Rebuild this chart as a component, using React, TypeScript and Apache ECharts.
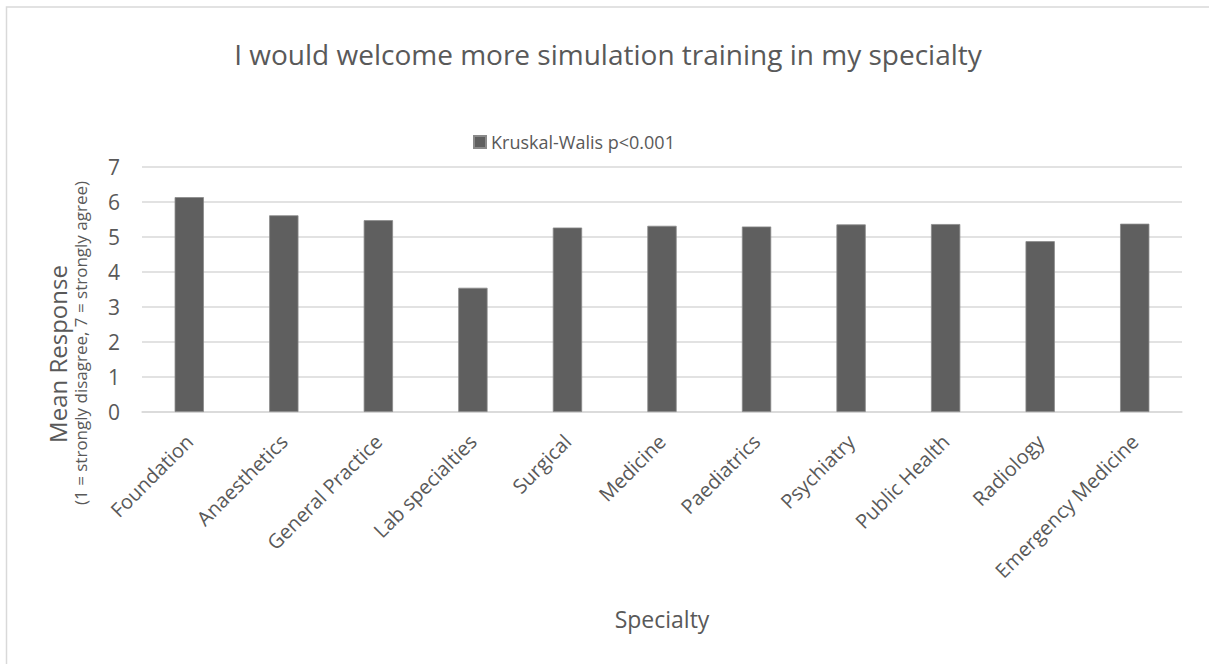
import React, { useEffect, useRef } from "react";
import * as echarts from "echarts";

const categories = [
  "Foundation",
  "Anaesthetics",
  "General Practice",
  "Lab specialties",
  "Surgical",
  "Medicine",
  "Paediatrics",
  "Psychiatry",
  "Public Health",
  "Radiology",
  "Emergency Medicine",
];
const meanResponse = [6.14, 5.62, 5.48, 3.55, 5.27, 5.32, 5.3, 5.36, 5.37, 4.88, 5.38];
const seriesName = "Kruskal-Walis p<0.001";
const titleText = "I would welcome more simulation training in my specialty";

const FONT = "'Open Sans', 'Noto Sans', sans-serif";
const TXT = "#595959";

export default function App() {
  const ref = useRef<HTMLDivElement>(null);
  useEffect(() => {
    if (!ref.current) return;
    const chart = echarts.init(ref.current, null, { renderer: "svg" });
    chart.setOption({
      animation: false,
      backgroundColor: "#ffffff",
      textStyle: { fontFamily: FONT, color: TXT },
      title: {
        text: titleText,
        left: 603,
        textAlign: "center",
        top: 35,
        textStyle: { fontFamily: FONT, fontSize: 28, fontWeight: "normal", color: TXT },
      },
      legend: {
        data: [seriesName],
        top: 128,
        left: 468,
        itemWidth: 12,
        itemHeight: 12,
        itemGap: 5,
        icon: "rect",
        textStyle: { fontFamily: FONT, fontSize: 18, color: TXT, padding: [0, 0, 0, 0] },
      },
      grid: { left: 142, right: 27, top: 167, bottom: 252, containLabel: false },
      xAxis: {
        type: "category",
        data: categories,
        name: "Specialty",
        nameLocation: "middle",
        nameGap: 195,
        nameTextStyle: { fontFamily: FONT, fontSize: 23, color: TXT },
        axisLine: { show: true, lineStyle: { color: "#d9d9d9", width: 1.5 } },
        axisTick: { show: false },
        axisLabel: {
          rotate: 45,
          interval: 0,
          margin: 26,
          fontFamily: FONT,
          fontSize: 20,
          color: TXT,
        },
      },
      yAxis: {
        type: "value",
        min: 0,
        max: 7,
        interval: 1,
        axisLine: { show: false },
        axisTick: { show: false },
        axisLabel: { margin: 22, fontFamily: FONT, fontSize: 21, color: TXT },
        splitLine: { lineStyle: { color: "#d9d9d9", width: 1.5 } },
      },
      series: [
        {
          name: seriesName,
          type: "bar",
          data: meanResponse,
          barWidth: "31%",
          itemStyle: { color: "#5f5f5f", borderColor: "#8a8a8a", borderWidth: 0.8 },
        },
      ],
      graphic: [
        {
          type: "rect",
          shape: { x: 6.5, y: 7, width: 1300, height: 800 },
          style: { fill: "none", stroke: "#d9d9d9", lineWidth: 1.5 },
          silent: true,
        },
        {
          type: "text",
          x: 57,
          y: 354,
          rotation: Math.PI / 2,
          style: {
            text: "Mean Response",
            fontFamily: FONT,
            fontSize: 24,
            fill: TXT,
            align: "center",
            verticalAlign: "middle",
          },
        },
        {
          type: "text",
          x: 80,
          y: 343,
          rotation: Math.PI / 2,
          style: {
            text: "(1 = strongly disagree, 7 = strongly agree)",
            fontFamily: FONT,
            fontSize: 17,
            fill: TXT,
            align: "center",
            verticalAlign: "middle",
          },
        },
      ],
    });
    return () => chart.dispose();
  }, []);
  return (
    <div
      ref={ref}
      style={{ position: "fixed", left: 0, top: 0, width: 1209, height: 664 }}
    />
  );
}
